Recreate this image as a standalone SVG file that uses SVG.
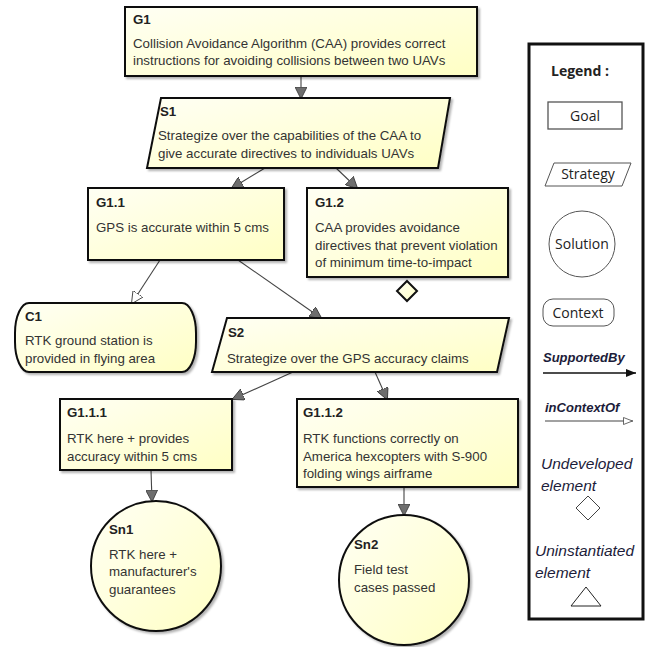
<svg xmlns="http://www.w3.org/2000/svg" width="651" height="647" viewBox="0 0 651 647">
<defs>
<linearGradient id="yf" x1="0" y1="0" x2="1" y2="1">
<stop offset="0" stop-color="#fffff4"/>
<stop offset="1" stop-color="#ffffc4"/>
</linearGradient>
<filter id="sh" x="-10%" y="-10%" width="130%" height="130%">
<feDropShadow dx="2" dy="2" stdDeviation="1.2" flood-color="#000" flood-opacity="0.3"/>
</filter>
<marker id="sup" viewBox="0 0 12 12" refX="11" refY="6" markerWidth="12" markerHeight="12" markerUnits="userSpaceOnUse" orient="auto">
<path d="M0,0 L12,6 L0,12 Z" fill="#6e6e6e" stroke="#333" stroke-width="0.8"/>
</marker>
<marker id="ctx" viewBox="0 0 12 12" refX="11" refY="6" markerWidth="12" markerHeight="12" markerUnits="userSpaceOnUse" orient="auto">
<path d="M0,0 L12,6 L0,12 Z" fill="#fff" stroke="#333" stroke-width="0.8"/>
</marker>
<marker id="lsup" viewBox="0 0 10 8" refX="10" refY="4" markerWidth="10" markerHeight="8" markerUnits="userSpaceOnUse" orient="auto">
<path d="M0,0 L10,4 L0,8 Z" fill="#111"/>
</marker>
<marker id="lctx" viewBox="0 0 10 8" refX="10" refY="4" markerWidth="10" markerHeight="8" markerUnits="userSpaceOnUse" orient="auto">
<path d="M0.5,0.5 L9.5,4 L0.5,7.5 Z" fill="#fff" stroke="#444" stroke-width="0.8"/>
</marker>
</defs>
<style>
.n{fill:url(#yf);stroke:#111;stroke-width:2;filter:url(#sh)}
.t{font-family:"Liberation Sans",Arial,sans-serif;font-size:13.3px;fill:#333}
.b{font-family:"Liberation Sans",Arial,sans-serif;font-size:13.3px;font-weight:bold;fill:#222}
.c{stroke:#444;stroke-width:1.1;fill:none}
.lg{font-family:"Open Sans","Liberation Sans",sans-serif;font-size:14px;fill:#222}
.li{font-family:"Liberation Sans",Arial,sans-serif;font-style:italic;fill:#1c1c3a}
</style>

<g id="connectors">
<line class="c" x1="301" y1="77" x2="301" y2="98" marker-end="url(#sup)"/>
<line class="c" x1="265" y1="168" x2="232" y2="188" marker-end="url(#sup)"/>
<line class="c" x1="336" y1="168" x2="357" y2="188" marker-end="url(#sup)"/>
<line class="c" x1="160" y1="260" x2="132" y2="303" marker-end="url(#ctx)"/>
<line class="c" x1="238" y1="260" x2="321" y2="318" marker-end="url(#sup)"/>
<line class="c" x1="293" y1="372" x2="233" y2="399" marker-end="url(#sup)"/>
<line class="c" x1="375" y1="372" x2="387" y2="399" marker-end="url(#sup)"/>
<line class="c" x1="151" y1="470" x2="152" y2="501" marker-end="url(#sup)"/>
<line class="c" x1="404" y1="487" x2="404" y2="515" marker-end="url(#sup)"/>
</g>

<g id="G1">
<rect class="n" x="125" y="7" width="352" height="69"/>
<text class="b" x="133" y="24">G1</text>
<text class="t" x="133" y="48">Collision Avoidance Algorithm (CAA) provides correct</text>
<text class="t" x="133" y="65">instructions for avoiding collisions between two UAVs</text>
</g>

<g id="S1">
<polygon class="n" points="161,98 450,98 438,168 147,168"/>
<text class="b" x="160" y="116">S1</text>
<text class="t" x="158" y="140">Strategize over the capabilities of the CAA to</text>
<text class="t" x="158" y="158">give accurate directives to individuals UAVs</text>
</g>

<g id="G1.1">
<rect class="n" x="88" y="188" width="196" height="72"/>
<text class="b" x="96" y="207">G1.1</text>
<text class="t" x="96" y="232">GPS is accurate within 5 cms</text>
</g>

<g id="G1.2">
<rect class="n" x="307" y="188" width="201" height="89"/>
<text class="b" x="315" y="207">G1.2</text>
<text class="t" x="315" y="232">CAA provides avoidance</text>
<text class="t" x="315" y="250">directives that prevent violation</text>
<text class="t" x="315" y="267">of minimum time-to-impact</text>
<polygon points="407,281 417,291 407,301 397,291" fill="url(#yf)" stroke="#111" stroke-width="2"/>
</g>

<g id="C1">
<rect class="n" x="15" y="303" width="181" height="69" rx="14" ry="30"/>
<text class="b" x="25" y="321">C1</text>
<text class="t" x="25" y="345">RTK ground station is</text>
<text class="t" x="25" y="363">provided in flying area</text>
</g>

<g id="S2">
<polygon class="n" points="227,318 509,318 497,372 212,372"/>
<text class="b" x="228" y="337">S2</text>
<text class="t" x="227" y="363">Strategize over the GPS accuracy claims</text>
</g>

<g id="G1.1.1">
<rect class="n" x="60" y="399" width="172" height="71"/>
<text class="b" x="67" y="417">G1.1.1</text>
<text class="t" x="67" y="443">RTK here + provides</text>
<text class="t" x="67" y="461">accuracy within 5 cms</text>
</g>

<g id="G1.1.2">
<rect class="n" x="297" y="399" width="221" height="88"/>
<text class="b" x="303" y="417">G1.1.2</text>
<text class="t" x="303" y="443">RTK functions correctly on</text>
<text class="t" x="303" y="461">America hexcopters with S-900</text>
<text class="t" x="303" y="478">folding wings airframe</text>
</g>

<g id="Sn1">
<circle class="n" cx="156" cy="566" r="65"/>
<text class="b" x="109" y="534">Sn1</text>
<text class="t" x="109" y="559">RTK here +</text>
<text class="t" x="109" y="576">manufacturer's</text>
<text class="t" x="109" y="594">guarantees</text>
</g>

<g id="Sn2">
<circle class="n" cx="404" cy="580" r="65"/>
<text class="b" x="354" y="549">Sn2</text>
<text class="t" x="354" y="574">Field test</text>
<text class="t" x="354" y="592">cases passed</text>
</g>

<g id="legend">
<rect x="529" y="44" width="114" height="575" fill="#fff" stroke="#111" stroke-width="3"/>
<text class="lg" x="551" y="76" font-weight="bold" font-size="15">Legend :</text>
<rect x="548" y="102" width="74" height="27" fill="#fff" stroke="#555" stroke-width="1.3"/>
<text class="lg" x="585" y="121" text-anchor="middle" font-size="15">Goal</text>
<polygon points="554,163 631,163 622,186 545,186" fill="#fff" stroke="#555" stroke-width="1"/>
<text class="lg" x="588" y="179" text-anchor="middle">Strategy</text>
<circle cx="582" cy="244" r="33" fill="#fff" stroke="#555" stroke-width="1"/>
<text class="lg" x="582" y="249" text-anchor="middle">Solution</text>
<rect x="543" y="299" width="71" height="27" rx="10" fill="#fff" stroke="#555" stroke-width="1"/>
<text class="lg" x="578" y="318" text-anchor="middle">Context</text>
<text class="li" x="543" y="362" font-size="13" font-weight="bold" fill="#333">SupportedBy</text>
<line x1="543" y1="373" x2="636" y2="373" stroke="#111" stroke-width="1.3" marker-end="url(#lsup)"/>
<text class="li" x="545" y="412" font-size="13" font-weight="bold" fill="#333">inContextOf</text>
<line x1="545" y1="421" x2="633" y2="421" stroke="#444" stroke-width="1.2" marker-end="url(#lctx)"/>
<text class="li" x="541" y="469" font-size="15.5">Undeveloped</text>
<text class="li" x="541" y="491" font-size="15.5">element</text>
<polygon points="588,496 600,508 588,520 576,508" fill="#fff" stroke="#444" stroke-width="1"/>
<text class="li" x="535" y="556" font-size="15.5">Uninstantiated</text>
<text class="li" x="535" y="578" font-size="15.5">element</text>
<polygon points="586,587 601,606 571,606" fill="#fff" stroke="#222" stroke-width="1"/>
</g>
</svg>
